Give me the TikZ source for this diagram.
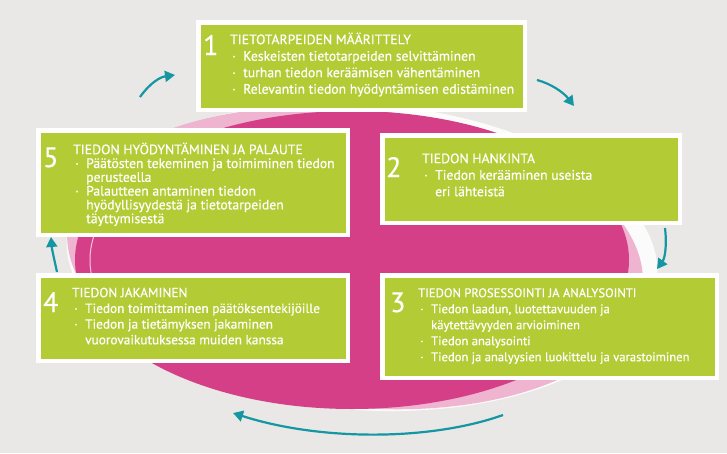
\documentclass[tikz,border=0pt]{standalone}
\usepackage{fontspec}
\setmainfont[FakeBold=0.5]{PT Sans}
\usetikzlibrary{arrows.meta}
\definecolor{bgGrey}{HTML}{E9E8E6}
\definecolor{leafGreen}{HTML}{B3CB35}
\definecolor{rosePink}{HTML}{D53F87}
\definecolor{palePink}{HTML}{EFB4CF}
\definecolor{arrowTeal}{HTML}{1497A3}
\newcommand{\bul}{\hspace*{2pt}\makebox[11pt][l]{·}}
\newcommand{\cnt}{\hspace*{13pt}}
\newcommand{\topln}{\rule{0pt}{13pt}}

\begin{document}
\begin{tikzpicture}[x=1pt, y=-1pt,
    box/.style={draw=white, line width=4.5pt, fill=leafGreen, inner sep=0pt},
    num/.style={anchor=base west, inner sep=0pt, text=white, font=\fontsize{28}{28}\selectfont},
    txt/.style={anchor=north west, inner sep=0pt, text=white, align=left},
    cyc/.style={draw=arrowTeal, line width=2.2pt, -{Triangle[length=10pt,width=11pt]}}]
  \useasboundingbox[fill=bgGrey] (0,0) rectangle (727,453);
  % brushed ring
  \fill[white, opacity=0.85, rotate around={-4:(362,257)}] (362,257) ellipse [x radius=296pt, y radius=153pt];
  \fill[palePink, rotate around={-6:(355,258)}] (355,258) ellipse [x radius=289pt, y radius=149pt];
  \fill[rosePink] (352,260) ellipse [x radius=277pt, y radius=149pt];
  \draw[white, opacity=0.7, line width=1pt] plot[domain=160:200, smooth, samples=30]
    ({352+262*cos(\x)},{260+140*sin(\x)});

  % boxes
  \node[box, minimum width=326.5pt, minimum height=87.5pt] (b1) at (361.5,66) {};
  \node[box, minimum width=297.5pt, minimum height=87.5pt] (b2) at (531,179) {};
  \node[box, minimum width=334.5pt, minimum height=102.5pt] (b3) at (549.5,326.5) {};
  \node[box, minimum width=309.5pt, minimum height=85.5pt] (b4) at (193,318) {};
  \node[box, minimum width=309.5pt, minimum height=104.5pt] (b5) at (193,182.5) {};

  \node[num] (n1) at (203,55) {1};
  \node[num] (n2) at (386,177) {2};
  \node[num] (n3) at (390,312) {3};
  \node[num] (n4) at (43,312) {4};
  \node[num] (n5) at (43,167) {5};

  \node[txt, font=\fontsize{13.7}{16.5}\selectfont] (t1) at (230,31)
    {\topln TIETOTARPEIDEN MÄÄRITTELY\\
     \bul Keskeisten tietotarpeiden selvittäminen\\
     \bul turhan tiedon keräämisen vähentäminen\\
     \bul Relevantin tiedon hyödyntämisen edistäminen};
  \node[txt, font=\fontsize{13.7}{16.5}\selectfont] (t2) at (422,150)
    {\topln TIEDON HANKINTA\\
     \bul Tiedon kerääminen useista\\
     \cnt eri lähteistä};
  \node[txt, font=\fontsize{12.6}{16}\selectfont] (t3) at (418,284)
    {\topln TIEDON PROSESSOINTI JA ANALYSOINTI\\
     \bul Tiedon laadun, luotettavuuden ja\\
     \cnt käytettävyyden arvioiminen\\
     \bul Tiedon analysointi\\
     \bul Tiedon ja analyysien luokittelu ja varastoiminen};
  \node[txt, font=\fontsize{13.3}{15.7}\selectfont] (t4) at (72,284)
    {\topln TIEDON JAKAMINEN\\
     \bul Tiedon toimittaminen päätöksentekijöille\\
     \bul Tiedon ja tietämyksen jakaminen\\
     \cnt vuorovaikutuksessa muiden kanssa};
  \node[txt, font=\fontsize{13.7}{13.8}\selectfont] (t5) at (73,141)
    {\topln TIEDON HYÖDYNTÄMINEN JA PALAUTE\\
     \bul Päätösten tekeminen ja toimiminen tiedon\\
     \cnt perusteella\\
     \bul Palautteen antaminen tiedon\\
     \cnt hyödyllisyydestä ja tietotarpeiden\\
     \cnt täyttymisestä};

  % cycle arrows
  \coordinate (a1s) at (140,97);  \coordinate (a1e) at (175,75);
  \coordinate (a2s) at (537,80);  \coordinate (a2e) at (574,106);
  \coordinate (a3s) at (665,228); \coordinate (a3e) at (657,269);
  \coordinate (a4s) at (503,415); \coordinate (a4e) at (233,413);
  \coordinate (a5s) at (57,272);  \coordinate (a5e) at (51,237);
  \draw[cyc] (a1s) .. controls (150,83) and (160,77) .. (a1e);
  \draw[cyc] (a2s) .. controls (552,84) and (564,93) .. (a2e);
  \draw[cyc] (a3s) .. controls (667,245) and (665,258) .. (a3e);
  \draw[cyc] (a4s) .. controls (430,441) and (320,441) .. (a4e);
  \draw[cyc] (a5s) .. controls (54,258) and (52,250) .. (a5e);
\end{tikzpicture}
\end{document}
